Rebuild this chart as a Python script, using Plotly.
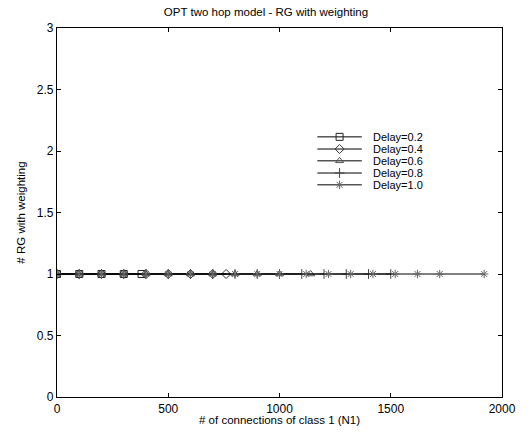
import plotly.graph_objects as go

labels = ["Delay=0.2", "Delay=0.4", "Delay=0.6", "Delay=0.8", "Delay=1.0"]
x02 = [0, 100, 200, 300, 380]
y02 = [1, 1, 1, 1, 1]
x04 = [0, 100, 200, 300, 400, 500, 600, 700, 760]
y04 = [1, 1, 1, 1, 1, 1, 1, 1, 1]
x06 = [0, 100, 200, 300, 400, 500, 600, 700, 800, 900, 1000, 1140]
y06 = [1, 1, 1, 1, 1, 1, 1, 1, 1, 1, 1, 1]
x08 = [0, 100, 200, 300, 400, 500, 600, 700, 800, 900, 1000, 1100, 1200, 1300, 1400, 1500]
y08 = [1] * 16
x10 = [0, 100, 200, 300, 400, 500, 600, 700, 800, 900, 1000, 1120, 1220, 1320, 1420, 1520, 1620, 1720, 1920]
y10 = [1] * 19

series = [(x02, y02), (x04, y04), (x06, y06), (x08, y08), (x10, y10)]
symbols = ["square-open", "diamond-open", "triangle-up-open", "cross-thin-open", "asterisk-open"]
colors = ["#222", "#333", "#555", "#444", "#666"]

# legend layout (fractions of the plot area)
leg_x0, leg_x1, leg_xt = 0.585, 0.685, 0.705
leg_y = [0.705, 0.672, 0.64, 0.607, 0.575]

fig = go.Figure()
for (xs, ys), lab, sym, c in zip(series, labels, symbols, colors):
    fig.add_trace(go.Scatter(
        x=xs, y=ys, name=lab, mode="lines+markers", showlegend=False,
        line=dict(color="black", width=1),
        marker=dict(symbol=sym, size=7, color=c, line=dict(width=1, color=c)),
    ))

# manual legend drawn on an invisible overlay axis
for lab, sym, c, ly in zip(labels, symbols, colors, leg_y):
    fig.add_trace(go.Scatter(
        x=[leg_x0, leg_x1], y=[ly, ly], mode="lines", xaxis="x2", yaxis="y2",
        line=dict(color="black", width=1), showlegend=False, hoverinfo="skip"))
    fig.add_trace(go.Scatter(
        x=[(leg_x0 + leg_x1) / 2], y=[ly], mode="markers", xaxis="x2", yaxis="y2",
        marker=dict(symbol=sym, size=7, color=c, line=dict(width=1, color=c)),
        showlegend=False, hoverinfo="skip"))
    fig.add_annotation(x=leg_xt, y=ly, xref="x2", yref="y2", text=lab, showarrow=False,
                       xanchor="left", yanchor="middle", font=dict(size=11))

fig.add_annotation(x=0.5, y=-0.061, xref="paper", yref="paper",
                   text="# of connections of class 1 (N1)", showarrow=False,
                   xanchor="center", yanchor="middle", font=dict(size=11.5))

axis_common = dict(
    showgrid=False, zeroline=False, showline=True, linecolor="black", linewidth=1.2,
    mirror="ticks", ticks="inside", ticklen=4, tickcolor="black",
    tickfont=dict(size=12, color="black"), automargin=False,
)
fig.update_layout(
    width=532, height=432,
    margin=dict(l=57, r=30, t=28, b=35),
    paper_bgcolor="white", plot_bgcolor="white",
    font=dict(family="Liberation Sans, Arial, sans-serif", color="black", size=11),
    title=dict(text="OPT two hop model - RG with weighting", x=0.5, xanchor="center",
               y=0.972, yanchor="middle", font=dict(size=11.5), automargin=False),
    xaxis=dict(range=[0, 2000], tickvals=[0, 500, 1000, 1500, 2000], **axis_common),
    yaxis=dict(range=[0, 3], tickvals=[0, 0.5, 1, 1.5, 2, 2.5, 3],
               title=dict(text="# RG with weighting", font=dict(size=11.5), standoff=8),
               **axis_common),
    xaxis2=dict(range=[0, 1], overlaying="x", visible=False, fixedrange=True),
    yaxis2=dict(range=[0, 1], overlaying="y", visible=False, fixedrange=True),
    showlegend=False,
)
fig.write_html("out.html", config={"displayModeBar": False},
               post_script="document.body.style.margin='0px';")
